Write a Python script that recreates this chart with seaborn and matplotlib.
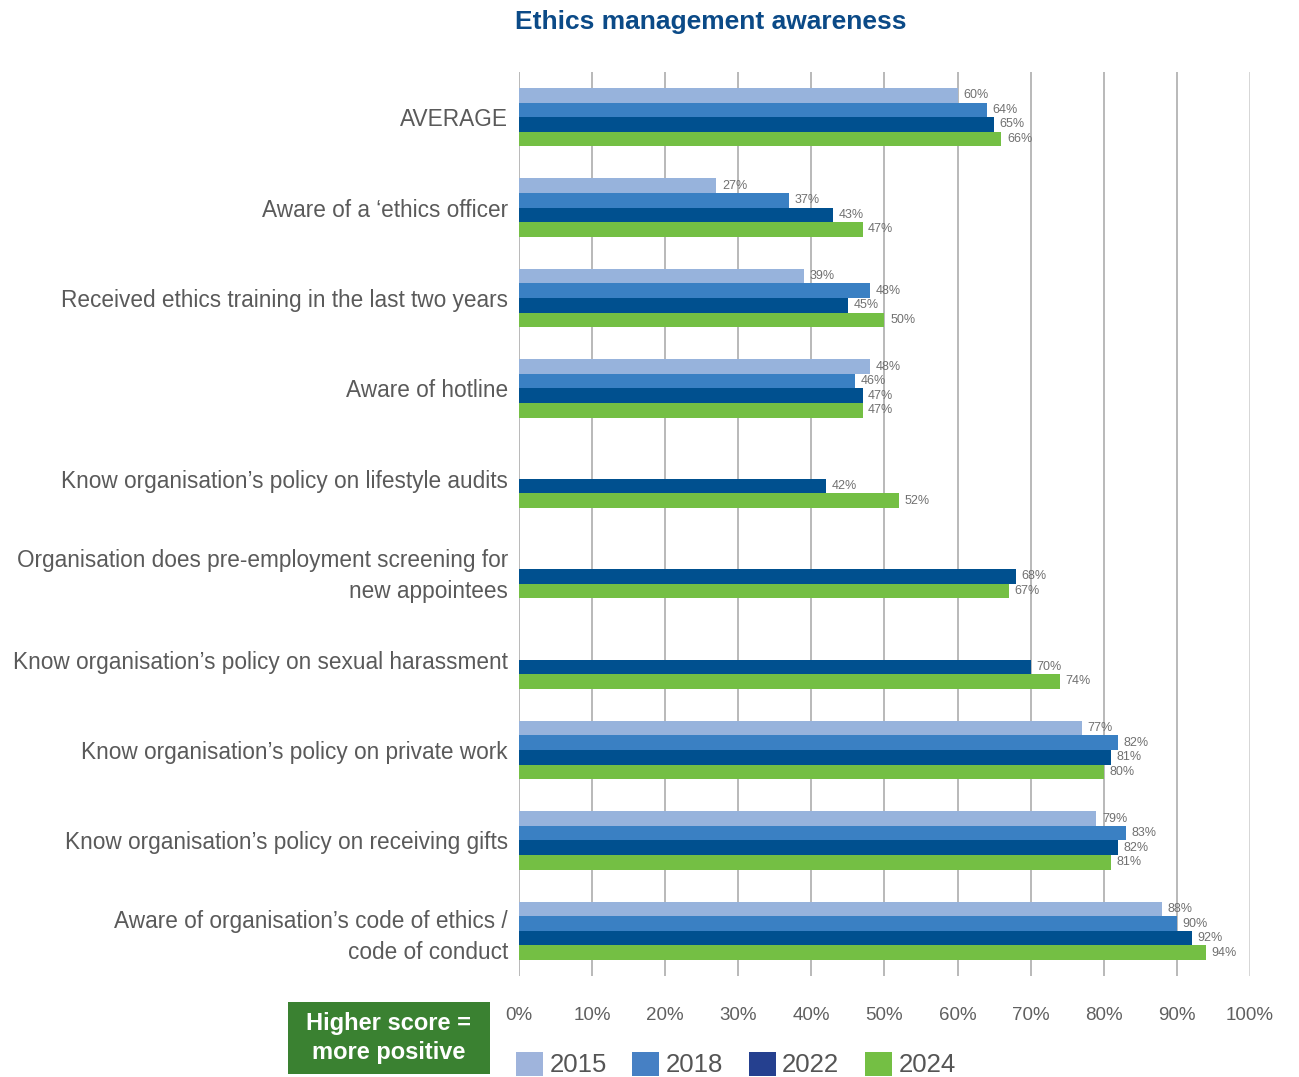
import numpy as np
import pandas as pd
import matplotlib
matplotlib.use("Agg")
import matplotlib.pyplot as plt
from matplotlib.patches import Patch, Rectangle
import seaborn as sns

# ---- data -------------------------------------------------------------
categories = [
    "AVERAGE",
    "Aware of a \u2018ethics officer",
    "Received ethics training in the last two years",
    "Aware of hotline",
    "Know organisation\u2019s policy on lifestyle audits",
    "Organisation does pre-employment screening for\nnew appointees",
    "Know organisation\u2019s policy on sexual harassment",
    "Know organisation\u2019s policy on private work",
    "Know organisation\u2019s policy on receiving gifts",
    "Aware of organisation\u2019s code of ethics /\ncode of conduct",
]
years = ["2015", "2018", "2022", "2024"]
v2015 = [60, 27, 39, 48, np.nan, np.nan, np.nan, 77, 79, 88]
v2018 = [64, 37, 48, 46, np.nan, np.nan, np.nan, 82, 83, 90]
v2022 = [65, 43, 45, 47, 42, 68, 70, 81, 82, 92]
v2024 = [66, 47, 50, 47, 52, 67, 74, 80, 81, 94]
x_ticks = [0, 10, 20, 30, 40, 50, 60, 70, 80, 90, 100]
x_tick_labels = [f"{t}%" for t in x_ticks]

bar_colors = ["#97b3dc", "#3a80c3", "#00508f", "#74bf44"]
legend_colors = ["#9fb4dc", "#4680c4", "#25408f", "#74bf44"]

# ---- long-form table ----------------------------------------------------
rows = []
for yr, vals in zip(years, [v2015, v2018, v2022, v2024]):
    for cat, v in zip(categories, vals):
        if not np.isnan(v):
            rows.append({"category": cat, "year": yr, "value": v})
df = pd.DataFrame(rows)

# ---- figure -------------------------------------------------------------
sns.set_theme(style="white")
plt.rcParams["font.family"] = ["Liberation Sans", "DejaVu Sans"]

fig = plt.figure(figsize=(12.99, 10.77), dpi=100)
ax = fig.add_axes([519 / 1299, 1 - 976 / 1077, (1250 - 519) / 1299, (976 - 72) / 1077])

sns.barplot(
    data=df, y="category", x="value", hue="year",
    order=categories, hue_order=years, palette=bar_colors,
    orient="h", width=0.645, dodge=True, saturation=1,
    errorbar=None, legend=False, ax=ax, linewidth=0,
)

ax.set_xlim(0, 100)
ax.set_ylim(len(categories) - 0.5, -0.5)
ax.set_xlabel("")
ax.set_ylabel("")

# vertical gridlines
for t in x_ticks:
    ax.axvline(t, color="#cccccc" if t == 100 else "#a6a6a6", lw=1.1, zorder=0)
for s in ax.spines.values():
    s.set_visible(False)

ax.set_xticks(x_ticks)
ax.set_xticklabels(x_tick_labels)
ax.tick_params(axis="x", length=0, pad=22, labelsize=13.5, labelcolor="#606060")
ax.tick_params(axis="y", length=0, pad=8, labelsize=16.3, labelcolor="#5a5a5a")
for lbl in ax.get_yticklabels():
    lbl.set_linespacing(1.45)
    lbl.set_horizontalalignment("right")

# value labels
for cont in ax.containers:
    labels = [f"{w:.0f}%" if w == w else "" for w in cont.datavalues]
    ax.bar_label(cont, labels=labels, padding=4, fontsize=9, color="#707070")

# title
fig.text(711 / 1299, 1 - 22 / 1077, "Ethics management awareness",
         ha="center", va="center", fontsize=19, fontweight="bold", color="#0b4a87")

# note box
fig.patches.append(Rectangle((288 / 1299, 1 - 1074 / 1077), (490 - 288) / 1299, 72 / 1077,
                             transform=fig.transFigure, facecolor="#3a8131",
                             edgecolor="none", zorder=3))
fig.text(389 / 1299, 1 - 1038 / 1077, "Higher score =\nmore positive", ha="center",
         va="center", color="white", fontsize=17, fontweight="bold",
         linespacing=1.3, zorder=4)

# legend
handles = [Patch(facecolor=c, edgecolor="none", label=y) for c, y in zip(legend_colors, years)]
fig.legend(handles=handles, loc="lower left", bbox_to_anchor=(512 / 1299, -0.004),
           ncol=4, frameon=False, fontsize=18.5, handlelength=1.05, handleheight=1.05,
           handletextpad=0.25, columnspacing=1.0, labelcolor="#555555",
           borderaxespad=0.0, borderpad=0.15)

fig.savefig("out.png", dpi=100)
